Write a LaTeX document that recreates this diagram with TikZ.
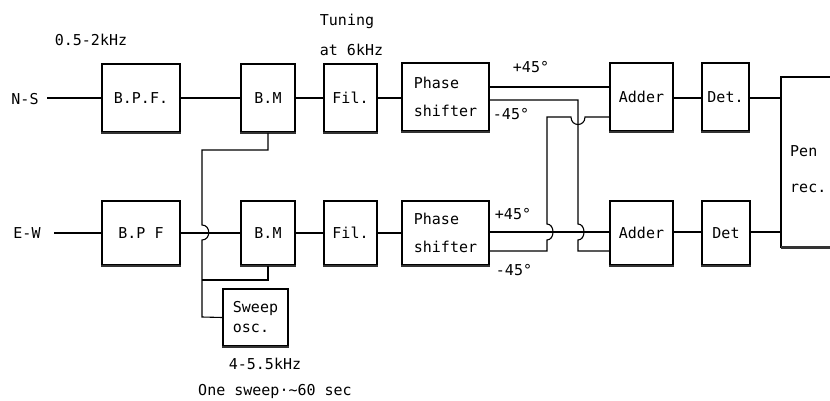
\documentclass[tikz,border=0pt]{standalone}
\usepackage{fontspec}
\setmonofont{DejaVu Sans Mono}
\begin{document}
\begin{tikzpicture}[x=1pt,y=-1pt,
  blk/.style={draw, line width=1.8pt, inner sep=0pt, font=\ttfamily\fontsize{15}{17}\selectfont},
  lbl/.style={inner sep=0pt, font=\ttfamily\fontsize{15}{17}\selectfont},
  wire/.style={line width=1.1pt},
  baseline/.style={line width=2.6pt, draw=black!80}]
\useasboundingbox (0,0) rectangle (830,401);
\tikzset{box/.style n args={4}{blk, minimum width=#3pt, minimum height=#4pt}}
% top row
\node[box={}{}{78}{68}] (bpfa) at (141,98) {B.P.F.};
\node[box={}{}{54}{68}] (bma) at (268,98) {B.M};
\node[box={}{}{53}{68}] (fila) at (350.5,98) {Fil.};
\node[box={}{}{87}{68}, align=left] (psa) at (445.5,97) {Phase\\[11pt]shifter};
\node[box={}{}{63}{68}] (adda) at (641.5,97) {Adder};
\node[box={}{}{47}{68}] (deta) at (725.5,97) {Det.};
% bottom row
\node[box={}{}{78}{64}] (bpfb) at (141,233) {B.P F};
\node[box={}{}{54}{64}] (bmb) at (268,233) {B.M};
\node[box={}{}{53}{64}] (filb) at (350.5,233) {Fil.};
\node[box={}{}{87}{64}, align=left] (psb) at (445.5,233) {Phase\\[11pt]shifter};
\node[box={}{}{63}{64}] (addb) at (641.5,233) {Adder};
\node[box={}{}{48}{64}] (detb) at (726,233) {Det};
% sweep oscillator
\node[box={}{}{65}{57}, align=left] (sweep) at (255.5,317.5) {Sweep\\[3pt]osc.};
% pen recorder (right side open / cut off)
\node[minimum width=49pt, minimum height=170pt, inner sep=0pt] (pen) at (805.5,162) {};
\draw[line width=1.8pt] (pen.north east) -- (pen.north west) -- (pen.south west) -- (pen.south east);
\node[lbl, align=left, anchor=west] (pentxt) at (790,169) {Pen\\[19pt]rec.};
% thicker bottom edges
\foreach \n in {bpfa,bma,fila,psa,adda,deta,bpfb,bmb,filb,psb,addb,detb,sweep}
  \draw[baseline] (\n.south west) -- (\n.south east);
\draw[baseline] (pen.south west) -- (pen.south east);
% labels
\node[lbl] (ns) at (25,99) {N-S};
\node[lbl] (ew) at (27,233) {E-W};
\node[lbl] (bw) at (91,40) {0.5-2kHz};
\node[lbl] (tun) at (347,21) {Tuning};
\node[lbl] (at6) at (351.5,50) {at 6kHz};
\node[lbl] (pa) at (531,67) {+45°};
\node[lbl] (ma) at (511,114) {-45°};
\node[lbl] (pb) at (513,214) {+45°};
\node[lbl] (mb) at (514,270) {-45°};
\node[lbl] (rng) at (265,364) {4-5.5kHz};
\node[lbl] (swp) at (275,391) {One sweep·∼60 sec};
% coordinates
\coordinate (nsend) at (47,98);
\coordinate (ewend) at (54,233);
% top chain
\draw[wire] (nsend) -- (bpfa.west);
\draw[wire] (bpfa.east) -- (bma.west);
\draw[wire] (bma.east) -- (fila.west);
\draw[wire] (fila.east) -- (psa.west |- fila.east);
\draw[wire] (psa.east |- 0,87) -- (adda.west |- 0,87);
\draw[wire] (adda.east |- 0,98) -- (deta.west |- 0,98);
\draw[wire] (deta.east |- 0,98) -- (pen.west |- 0,98);
% bottom chain
\draw[wire] (ewend) -- (bpfb.west);
\draw[wire] (bpfb.east) -- (bmb.west);
\draw[wire] (bmb.east) -- (filb.west);
\draw[wire] (filb.east) -- (psb.west |- filb.east);
\draw[wire] (addb.east |- 0,232) -- (detb.west |- 0,232);
\draw[wire] (detb.east |- 0,232) -- (pen.west |- 0,232);
% bottom +45 to bottom adder
\draw[wire] (psb.east |- 0,232) -- (addb.west |- 0,232);
% top -45 to bottom adder (lower input)
\draw[wire] (psa.east |- 0,100) -- (578,100) -- (578,224)
  .. controls (586,224) and (586,240) .. (578,240) -- (578,251) -- (addb.west |- 0,251);
% bottom -45 to top adder (lower input)
\draw[wire] (psb.east |- 0,251) -- (547,251) -- (547,240)
  .. controls (555,240) and (555,224) .. (547,224) -- (547,117) -- (571,117)
  .. controls (571,127) and (585,127) .. (585,117) -- (adda.west |- 0,117);
% sweep oscillator feeds
\draw[wire] (bma.south) -- (bma.south |- 0,150) -- (202,150) -- (202,225)
  .. controls (211,225) and (211,240) .. (202,240) -- (202,317) -- (sweep.west);
\draw[wire] (bmb.south) -- (bmb.south |- 0,280) -- (202,280);
\end{tikzpicture}
\end{document}
